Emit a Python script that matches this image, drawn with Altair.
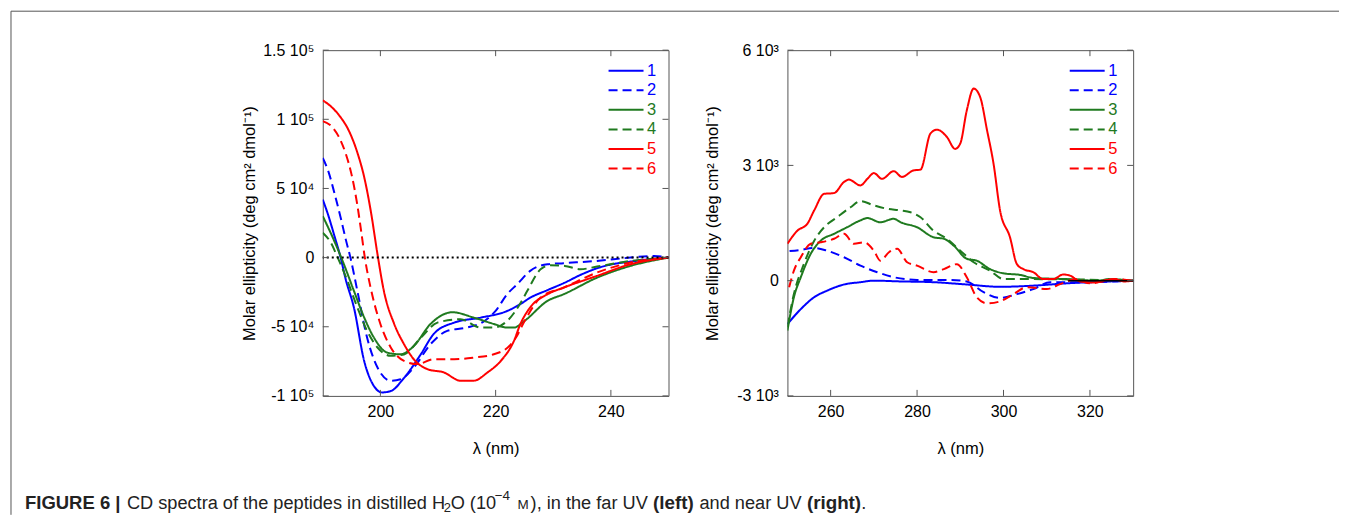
import altair as alt
import pandas as pd

FONT = "Liberation Sans"
BLUE, GREEN, RED = "#0000ff", "#1f7a1f", "#ff0000"
FRAME = "#555555"

series_names = ["1", "2", "3", "4", "5", "6"]
series_colors = [BLUE, BLUE, GREEN, GREEN, RED, RED]
series_dashes = [[1, 0], [9, 5], [1, 0], [9, 5], [1, 0], [9, 5]]

# ---------- Far UV (left panel): wavelength (nm), ellipticity (10^3 deg cm2 dmol-1)
far_wl_1 = [190, 191, 192, 193.1, 194, 195.4, 197.2, 198.9, 200.3, 201.8, 204.1, 207, 209.3, 212.8,
            217.4, 222, 224.3, 226, 229, 231.8, 235, 237.6, 240, 243.4, 246, 250]
far_val_1 = [42, 30, 16, 0, -16, -36, -75, -93, -97.5, -96.5, -87, -70, -55, -47,
             -43.4, -38.6, -33.6, -29, -23.5, -18.5, -12, -7.7, -5, -2.9, -1.5, 0]

far_wl_2 = [190, 191, 192, 193.1, 194, 194.8, 196, 197.7, 199.5, 201.8, 203.5, 205.8, 208.7, 211.6,
            215, 218, 220, 222, 223.8, 226, 229, 231.8, 237.6, 243.4, 247.5, 250]
far_val_2 = [72, 62, 47, 29, 13, 0, -24, -58, -79.5, -89, -88, -79.5, -62.6, -53,
             -50.6, -46, -38.5, -26.5, -19, -9.6, -4.8, -4, -2.4, 0, 1.2, 0]

far_wl_3 = [190, 192, 193.5, 195.4, 197.2, 198.9, 201.2, 203.5, 205.8, 208.7, 212.5, 216.2, 219.7,
            222, 223.2, 225, 229, 231.8, 237.6, 243.4, 250]
far_val_3 = [30, 12, -3, -24, -43.4, -58, -68.7, -69.9, -63.9, -48, -39.5, -43.4, -48,
             -50.6, -50.6, -45.8, -31.3, -26.5, -14.5, -6, 0]

far_wl_4 = [190, 191.4, 192.6, 194.3, 196, 197.7, 199.5, 201.8, 204.1, 207, 209.9, 213.9, 217.4,
            219.7, 222, 224.3, 225.5, 227.8, 229.5, 232, 234.7, 237.6, 243.4, 250]
far_val_4 = [18, 10.8, 0, -17, -36, -53, -65, -71, -70, -58, -47, -44.6, -50.6,
             -50.6, -45.8, -33, -24, -8.5, -5.5, -6, -8.4, -6.5, -2.4, 0]

far_wl_5 = [190, 191.5, 193, 194.5, 196, 197.2, 198.4, 199.4, 200.6, 202.4, 204.1, 205.8, 208.2, 211,
            213.9, 216.2, 218.6, 220.9, 223.2, 224.3, 226, 229, 231.8, 237.6, 243.4, 250]
far_val_5 = [113.7, 109, 102, 92, 76, 58, 32, 5, -24, -48, -62.6, -73.5, -80.7, -83,
             -89, -89, -83, -74.7, -60, -48, -36, -26.5, -21.7, -13.2, -4.8, 0]

far_wl_6 = [190, 191.5, 192.7, 194, 195, 196, 196.7, 197.3, 198.3, 200, 201.8, 204.1, 206.4, 209.3,
            212.8, 216.2, 219.7, 222.6, 223.5, 225, 227.8, 231.8, 237.6, 243.4, 250]
far_val_6 = [98.7, 95, 88, 75, 60, 38, 18, 0, -21.7, -48, -65, -74.7, -77, -73.5,
             -73.5, -72.3, -69.9, -63, -58, -46, -28.9, -21.7, -10.8, -3.6, 0]

# ---------- Near UV (right panel): wavelength (nm), ellipticity (10^3 deg cm2 dmol-1)
near_wl_1 = [250, 253.1, 256.2, 259.2, 263.1, 266.9, 270, 276.2, 283.8, 291.5, 299.2, 306.9, 314.6, 322.3, 330]
near_val_1 = [-1.13, -0.74, -0.43, -0.26, -0.1, -0.04, 0, -0.02, -0.04, -0.1, -0.16, -0.13, -0.07, -0.03, 0]

near_wl_2 = [250.5, 253, 256.2, 259.2, 263.1, 266.9, 270.8, 274.6, 280, 287.7, 291.5, 295.4, 299.2,
             303.1, 306.9, 310.8, 318.5, 330]
near_val_2 = [0.77, 0.8, 0.85, 0.78, 0.61, 0.39, 0.22, 0.09, 0.02, 0.02, -0.02, -0.3, -0.45,
              -0.35, -0.22, -0.04, -0.04, 0]

near_wl_3 = [250, 251.5, 253.1, 255.4, 257.7, 260.8, 263.8, 266.9, 268.5, 271.5, 274.6, 276.2, 280,
             283.8, 286.2, 288.5, 291.5, 293.8, 296.9, 300, 303.8, 306.9, 314.6, 322, 324.2, 330]
near_val_3 = [-1.3, -0.43, 0.09, 0.7, 1.04, 1.22, 1.39, 1.57, 1.63, 1.52, 1.61, 1.52, 1.39,
              1.13, 1.09, 0.91, 0.57, 0.52, 0.3, 0.19, 0.15, 0.07, 0.04, 0.0, 0.04, 0]

near_wl_4 = [250, 251.5, 253.8, 256.2, 258.5, 261.5, 264.6, 266.9, 270, 273.1, 276.2, 278.5, 280.8,
             283.8, 286.9, 290, 293.1, 296.9, 300, 303.8, 306.9, 330]
near_val_4 = [-1.2, -0.35, 0.43, 1.04, 1.39, 1.65, 1.91, 2.07, 1.96, 1.87, 1.83, 1.78, 1.65,
              1.3, 1.09, 0.78, 0.48, 0.26, 0.04, 0.04, 0.04, 0]

near_wl_5 = [250, 252.3, 254.6, 256.2, 258.5, 260.8, 263.1, 264.2, 266.9, 268.5, 270, 271.9, 274.6,
             276.5, 279.2, 280.8, 283.1, 284.6, 286.9, 288.8, 290, 291.5, 293.1, 294.6, 296.2,
             297.7, 299.2, 301.5, 303.1, 304.6, 306.9, 309.2, 311.5, 313.8, 315.4, 317.7, 320.8,
             324, 325.5, 328, 330]
near_val_5 = [0.96, 1.3, 1.48, 1.83, 2.26, 2.28, 2.57, 2.63, 2.48, 2.65, 2.8, 2.65, 2.85,
              2.7, 2.87, 2.89, 3.83, 3.93, 3.74, 3.43, 3.57, 4.43, 5.0, 4.78, 3.91,
              3.04, 1.83, 1.13, 0.43, 0.3, 0.22, 0.04, 0.04, 0.16, 0.13, -0.02, -0.05,
              0.02, 0.04, -0.02, 0]

near_wl_6 = [250.4, 251.5, 253.1, 255.4, 257.7, 260.8, 263.1, 265.4, 267.7, 270, 271.5, 273.5, 275.4,
             277.7, 280, 283.8, 286.2, 289.2, 291.5, 293.8, 296.2, 299.2, 302.3, 305.4, 310,
             313.1, 316.9, 320, 323, 326, 330]
near_val_6 = [-0.17, 0.26, 0.61, 0.96, 1.0, 1.09, 1.22, 0.96, 1.0, 0.78, 0.52, 0.74, 0.83,
              0.48, 0.39, 0.22, 0.3, 0.43, 0.09, -0.43, -0.59, -0.54, -0.35, -0.17, -0.22,
              -0.09, 0.04, -0.07, -0.02, 0.04, 0]

# ---------- axes
far_x_domain = [190, 250]
far_y_domain = [-100, 150]
far_x_ticks = [200, 220, 240]
far_y_ticks = [-100, -50, 0, 50, 100, 150]
far_y_labels = ["-1 10⁵", "-5 10⁴", "0", "5 10⁴", "1 10⁵", "1.5 10⁵"]

near_x_domain = [250, 330]
near_y_domain = [-3, 6]
near_x_ticks = [260, 280, 300, 320]
near_y_ticks = [-3, 0, 3, 6]
near_y_labels = ["-3 10³", "0", "3 10³", "6 10³"]
near_zero_segment = [315, 330]

x_title = "λ (nm)"
y_title = "Molar ellipticity (deg cm² dmol⁻¹)"

caption_parts = ["FIGURE 6 |", "CD spectra of the peptides in distilled H", "2", "O (10", "−4", "M",
                 "), in the far UV", "(left)", "and near UV", "(right)", "."]

W = H = 346


def long_df(wls, vals):
    rows = []
    for name, wl, val in zip(series_names, wls, vals):
        for a, b in zip(wl, val):
            rows.append({"wl": a, "val": b, "series": name})
    return pd.DataFrame(rows)


far_df = long_df([far_wl_1, far_wl_2, far_wl_3, far_wl_4, far_wl_5, far_wl_6],
                 [far_val_1, far_val_2, far_val_3, far_val_4, far_val_5, far_val_6])
near_df = long_df([near_wl_1, near_wl_2, near_wl_3, near_wl_4, near_wl_5, near_wl_6],
                  [near_val_1, near_val_2, near_val_3, near_val_4, near_val_5, near_val_6])


def label_expr(values, labels):
    expr = "''"
    for v, s in reversed(list(zip(values, labels))):
        expr = f"datum.value == {v} ? '{s}' : {expr}"
    return expr


legend_color_expr = (f"toNumber(datum.label) <= 2 ? '{BLUE}' : "
                     f"toNumber(datum.label) <= 4 ? '{GREEN}' : '{RED}'")

# a horizontal line symbol twice as wide as the nominal symbol size
LINE_SYMBOL = "M-2,0H2"


def panel(df, xdom, ydom, xticks, yticks, ylabels, legend_x, ytitle_x, zero_layer):
    xs = alt.Scale(domain=xdom, nice=False, zero=False)
    ys = alt.Scale(domain=ydom, nice=False, zero=False)
    leg = alt.Legend(title=None, orient="none", legendX=legend_x, legendY=10.5,
                     symbolType=LINE_SYMBOL, symbolSize=306, symbolStrokeWidth=2,
                     labelFont=FONT, labelFontSize=16.5, labelColor=alt.ExprRef(legend_color_expr),
                     labelOffset=11, rowPadding=0.6, padding=0, direction="vertical")
    common = dict(grid=False, domain=False, ticks=False, labelFont=FONT, labelFontSize=16,
                  labelColor="black", titleFont=FONT, titleFontSize=16.5, titleFontWeight="normal",
                  titleColor="black", labelFlush=False, labelOverlap=False)
    xaxis = alt.Axis(values=xticks, title=x_title, labelPadding=8, titleX=W / 2, titleY=53,
                     titleBaseline="middle", titleAlign="center", **common)
    yaxis = alt.Axis(values=yticks, labelExpr=label_expr(yticks, ylabels), title=y_title,
                     labelPadding=9, titleX=ytitle_x, titleY=H / 2, titleAngle=270,
                     titleBaseline="middle", titleAlign="center", **common)
    lines = alt.Chart(df).mark_line(strokeWidth=2, clip=True, interpolate="monotone").encode(
        x=alt.X("wl:Q", scale=xs, axis=xaxis),
        y=alt.Y("val:Q", scale=ys, axis=yaxis),
        color=alt.Color("series:N", scale=alt.Scale(domain=series_names, range=series_colors), legend=leg),
        strokeDash=alt.StrokeDash("series:N", scale=alt.Scale(domain=series_names, range=series_dashes),
                                  legend=leg),
    )
    xt = alt.Chart(pd.DataFrame({"wl": xticks}))
    yt = alt.Chart(pd.DataFrame({"val": yticks}))
    tx = alt.X("wl:Q", scale=xs, axis=xaxis)
    ty = alt.Y("val:Q", scale=ys, axis=yaxis)
    bottom = xt.mark_rule(color=FRAME).encode(x=tx, y=alt.value(H), y2=alt.value(H - 6))
    top = xt.mark_rule(color=FRAME).encode(x=tx, y=alt.value(0), y2=alt.value(6))
    left = yt.mark_rule(color=FRAME).encode(y=ty, x=alt.value(0), x2=alt.value(6))
    right = yt.mark_rule(color=FRAME).encode(y=ty, x=alt.value(W - 6), x2=alt.value(W))
    zero = zero_layer(xs, ys, xaxis, yaxis)
    return alt.layer(lines, zero, bottom, top, left, right).properties(
        width=W, height=H, view=alt.ViewBackground(stroke=FRAME, strokeWidth=1))


def far_zero(xs, ys, xaxis, yaxis):
    return alt.Chart(pd.DataFrame({"val": [0]})).mark_rule(
        color="black", strokeWidth=2, strokeDash=[2, 3]).encode(y=alt.Y("val:Q", scale=ys, axis=yaxis))


def near_zero(xs, ys, xaxis, yaxis):
    return alt.Chart(pd.DataFrame({"wl": [near_zero_segment[0]], "wl2": [near_zero_segment[1]],
                                   "val": [0]})).mark_rule(color="black", strokeWidth=1.5).encode(
        x=alt.X("wl:Q", scale=xs, axis=xaxis), x2="wl2:Q", y=alt.Y("val:Q", scale=ys, axis=yaxis))


left_panel = panel(far_df, far_x_domain, far_y_domain, far_x_ticks, far_y_ticks, far_y_labels,
                   293.5, -73, far_zero)
right_panel = panel(near_df, near_x_domain, near_y_domain, near_x_ticks, near_y_ticks, near_y_labels,
                    290, -74.5, near_zero)

# ---------- decoration panel (figure frame + caption), origin at page (11, 49)
dummy = pd.DataFrame({"a": [0]})
noview = alt.ViewBackground(stroke="transparent")
OX, OY = 11, 49

frame_top = alt.Chart(dummy).mark_rule(color=FRAME, strokeWidth=1).encode(
    x=alt.value(-1), x2=alt.value(1328), y=alt.value(-39))
frame_left = alt.Chart(dummy).mark_rule(color=FRAME, strokeWidth=1).encode(
    x=alt.value(-1), y=alt.value(-39), y2=alt.value(465))

# caption pieces: (page-x, baseline shift, size, bold)
BASE = 507.7 - OY
piece_styles = [
    (24, 0, 18.5, True), (126, 0, 18.2, False), (443, 3.5, 13, False), (450, 0, 18.2, False),
    (494, -9, 13.5, False), (517, 0, 13.5, False), (530, 0, 18.2, False), (652.5, 0, 18.8, True),
    (699, 0, 18.2, False), (806.5, 0, 18.8, True), (861, 0, 18.2, False),
]
cap_layers = []
for txt, (px, dy, fs, bold) in zip(caption_parts, piece_styles):
    cap_layers.append(
        alt.Chart(dummy).mark_text(text=txt, align="left", baseline="alphabetic", font=FONT, fontSize=fs,
                                   fontWeight="bold" if bold else "normal", color="#222222").encode(
            x=alt.value(px - OX), y=alt.value(BASE + dy)))

decor = alt.layer(frame_top, frame_left, *cap_layers).properties(width=192, height=H, view=noview)

chart = alt.hconcat(decor, left_panel, right_panel, spacing=119, bounds="flush").resolve_scale(
    color="independent", strokeDash="independent").resolve_legend(
    color="independent", strokeDash="independent").properties(
    padding={"left": 2, "top": 2, "right": 0, "bottom": 0},
    autosize=alt.AutoSizeParams(type="pad"),
).configure_view(stroke="transparent").configure(background="white")

chart.save("out.html", embed_options={"renderer": "svg", "actions": False})
